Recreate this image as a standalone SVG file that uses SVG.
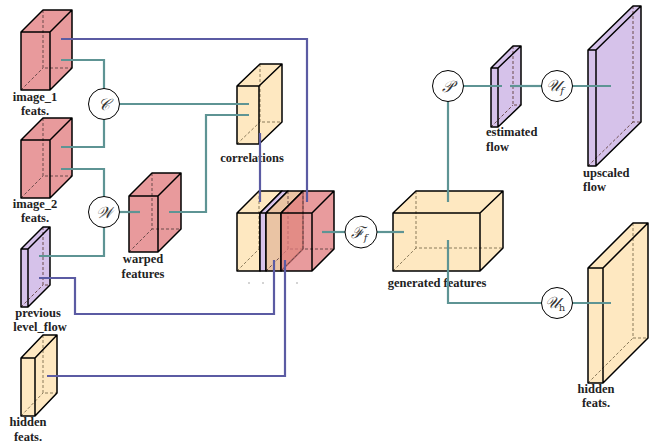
<svg xmlns="http://www.w3.org/2000/svg" width="652" height="445" viewBox="0 0 652 445">
<style>
.f{stroke:none}
.red{fill:#E89A9C}
.yel{fill:#FEE8C1}
.pur{fill:#D6C2EA}
.pea{fill:#EAC4A4}
.redt{fill:#E07A7C;fill-opacity:0.75}
.hid{fill:none;stroke:#6a4a4a;stroke-width:1;stroke-dasharray:3,2}
.hidy{fill:none;stroke:#8a7a5a;stroke-width:1;stroke-dasharray:3,2}
.ol{fill:none;stroke:#000;stroke-width:1.5;stroke-linejoin:round}
.teal{fill:none;stroke:#5E9494;stroke-width:2.2}
.blue{fill:none;stroke:#5B5BA3;stroke-width:2.2}
.op{fill:#fff;stroke:#000;stroke-width:1}
.lb{font-family:"Liberation Serif",serif;font-weight:bold;font-size:12.5px;fill:#222}
.m{font-family:"DejaVu Serif","Liberation Serif",serif;font-style:italic;font-size:16px;fill:#333;text-anchor:middle}
.dot{fill:#888}
</style>

<g id="image1">
<polygon class="f red" points="21,32 43,10 72,10 72,68 50,90 21,90"/>
<path class="hid" d="M43,10V68H72M21,90L43,68"/>
<path class="ol" d="M21,32H50V90H21Z M21,32L43,10H72L50,32 M72,10V68L50,90"/>
<text class="lb" x="35" y="101" text-anchor="middle">image_1</text>
<text class="lb" x="35" y="115" text-anchor="middle">feats.</text>
</g>

<g id="image2">
<polygon class="f red" points="21,140 43,118 72,118 72,176 50,198 21,198"/>
<path class="hid" d="M43,118V176H72M21,198L43,176"/>
<path class="ol" d="M21,140H50V198H21Z M21,140L43,118H72L50,140 M72,118V176L50,198"/>
<text class="lb" x="35" y="208" text-anchor="middle">image_2</text>
<text class="lb" x="35" y="222" text-anchor="middle">feats.</text>
</g>

<g id="prevflow">
<polygon class="f pur" points="21,249 43,227 50,227 50,285 28,307 21,307"/>
<path class="hid" d="M43,227V285H50M21,307L43,285"/>
<path class="ol" d="M21,249H28V307H21Z M21,249L43,227H50L28,249 M50,227V285L28,307"/>
<text class="lb" x="38" y="317" text-anchor="middle">previous</text>
<text class="lb" x="40" y="331" text-anchor="middle">level_flow</text>
</g>

<g id="hiddenL">
<polygon class="f yel" points="21,358 43,335 57,335 57,393 35,416 21,416"/>
<path class="hidy" d="M43,335V393H57M21,416L43,393"/>
<path class="ol" d="M21,358H35V416H21Z M21,358L43,335H57L35,358 M57,335V393L35,416"/>
<text class="lb" x="28" y="426" text-anchor="middle">hidden</text>
<text class="lb" x="28" y="441" text-anchor="middle">feats.</text>
</g>

<g id="warped">
<polygon class="f red" points="129,196 152,173 181,173 181,229 158,252 129,252"/>
<path class="hid" d="M152,173V229H181M129,252L152,229"/>
<path class="ol" d="M129,196H158V252H129Z M129,196L152,173H181L158,196 M181,173V229L158,252"/>
<text class="lb" x="143" y="263" text-anchor="middle">warped</text>
<text class="lb" x="143" y="278" text-anchor="middle">features</text>
</g>

<g id="correlations">
<polygon class="f yel" points="237,86 260,64 282,64 282,122 259,144 237,144"/>
<path class="hidy" d="M260,64V122H282M237,144L260,122"/>
<path class="ol" d="M237,86H259V144H237Z M237,86L260,64H282L259,86 M282,64V122L259,144"/>
<text class="lb" x="252" y="162" text-anchor="middle">correlations</text>
</g>

<g id="stack">
<polygon class="f yel" points="237,213 259,191 282,191 282,249 260,271 237,271"/>
<path class="hidy" d="M259,191V249H282M237,271L259,249"/>
<path class="ol" d="M237,213H260V271H237Z M237,213L259,191H282L260,213 M282,191V249L260,271"/>
<polygon class="f pur" points="260,213 282,191 288,191 288,249 266,271 260,271"/>
<path class="hid" d="M282,249H288"/>
<path class="ol" d="M260,213H266V271H260Z M260,213L282,191H288L266,213 M288,191V249L266,271"/>
<polygon class="f pea" points="266,213 288,191 303,191 303,249 281,271 266,271"/>
<path class="hid" d="M288,191V249H303M266,271L288,249"/>
<path class="ol" d="M266,213H281V271H266Z M266,213L288,191H303L281,213 M303,191V249L281,271"/>
<polygon class="f redt" points="281,213 303,191 334,191 334,249 312,271 281,271"/>
<path class="hid" d="M303,191V249H334M281,271L303,249"/>
<path class="ol" d="M281,213H312V271H281Z M281,213L303,191H334L312,213 M334,191V249L312,271"/>
<circle class="dot" cx="249" cy="283" r="0.7"/>
<circle class="dot" cx="263" cy="283" r="0.7"/>
<circle class="dot" cx="274" cy="283" r="0.7"/>
<circle class="dot" cx="297" cy="283" r="0.7"/>
</g>

<g id="generated">
<polygon class="f yel" points="393,213 416,191 503,191 503,248 480,271 393,271"/>
<path class="hidy" d="M416,191V248H503M393,271L416,248"/>
<path class="ol" d="M393,213H480V271H393Z M393,213L416,191H503L480,213 M503,191V248L480,271"/>
<text class="lb" x="437" y="287" text-anchor="middle">generated features</text>
</g>

<g id="estimated">
<polygon class="f pur" points="491,68 513,46 521,46 521,105 498,127 491,127"/>
<path class="hid" d="M513,46V105H521M491,127L513,105"/>
<path class="ol" d="M491,68H498V127H491Z M491,68L513,46H521L498,68 M521,46V105L498,127"/>
<text class="lb" x="486" y="136">estimated</text>
<text class="lb" x="486" y="151">flow</text>
</g>

<g id="upscaled">
<polygon class="f pur" points="588,50 633,6 641,6 641,122 596,166 588,166"/>
<path class="hid" d="M633,6V122H641M588,166L633,122"/>
<path class="ol" d="M588,50H596V166H588Z M588,50L633,6H641L596,50 M641,6V122L596,166"/>
<text class="lb" x="583" y="177">upscaled</text>
<text class="lb" x="583" y="191">flow</text>
</g>

<g id="hiddenR">
<polygon class="f yel" points="588,268 633,223 648,223 648,338 603,383 588,383"/>
<path class="hidy" d="M633,223V338H648M588,383L633,338"/>
<path class="ol" d="M588,268H603V383H588Z M588,268L633,223H648L603,268 M648,223V338L603,383"/>
<text class="lb" x="596" y="393" text-anchor="middle">hidden</text>
<text class="lb" x="596" y="407" text-anchor="middle">feats.</text>
</g>

<g id="connectors">
<path class="teal" d="M61,60H104V88.5"/>
<path class="teal" d="M61,147H104V119.5"/>
<path class="teal" d="M119.5,104H249"/>
<path class="teal" d="M61,169H104V196.5"/>
<path class="teal" d="M119.5,212H140"/>
<path class="teal" d="M104,227.5V256H39"/>
<path class="teal" d="M169,212H206V115H249"/>
<path class="teal" d="M322,232H345"/>
<path class="teal" d="M377,232H404"/>
<path class="teal" d="M448,202V101"/>
<path class="teal" d="M463,86H502"/>
<path class="teal" d="M510,86H542"/>
<path class="teal" d="M572,86H611"/>
<path class="teal" d="M448,240V303H542"/>
<path class="teal" d="M572,303H611"/>
<path class="blue" d="M61,39H307V202"/>
<path class="blue" d="M260,133V202"/>
<path class="blue" d="M39,278H75V314H274V260"/>
<path class="blue" d="M47,376H285V260"/>
</g>

<g id="opC"><circle class="op" cx="104" cy="104" r="15.5"/><text class="m" x="104" y="110">𝒞</text></g>
<g id="opW"><circle class="op" cx="104" cy="212" r="15.5"/><text class="m" x="104" y="218">𝒲</text></g>
<g id="opFf"><circle class="op" cx="361" cy="232" r="16"/><text class="m" x="359" y="238">ℱ<tspan font-size="10" dy="3">f</tspan></text></g>
<g id="opP"><circle class="op" cx="448" cy="86" r="15.5"/><text class="m" x="448" y="92">𝒫</text></g>
<g id="opUf"><circle class="op" cx="557" cy="86" r="15.5"/><text class="m" x="555" y="91">𝒰<tspan font-size="10" dy="3">f</tspan></text></g>
<g id="opUh"><circle class="op" cx="557" cy="303" r="15.5"/><text class="m" x="555" y="308">𝒰<tspan font-size="10" dy="3" font-style="normal">h</tspan></text></g>
</svg>
